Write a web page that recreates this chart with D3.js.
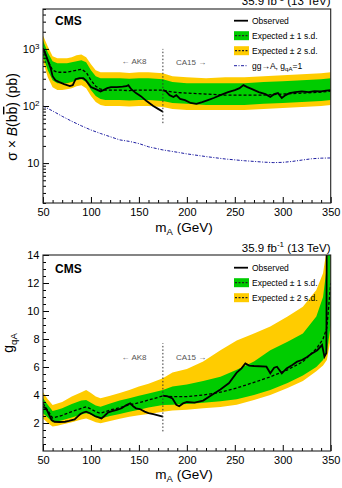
<!DOCTYPE html>
<html>
<head>
<meta charset="utf-8">
<script src="https://cdn.jsdelivr.net/npm/d3@7"></script>
<style>
  body { margin: 0; background: #fff; }
  svg { display: block; font-family: "Liberation Sans", Arial, Helvetica, sans-serif; }
</style>
</head>
<body>
<div id="chart"></div>
<script>
////////////////////////////////////////////////////
// data               //
////////////////////////////////////////////////////

// upper panel: sigma x B(bb) in pb
const massBand = [50,55,60,65,70,75,80,85,90,95,100,105,110,115,120,130,140,150,160,175,185,200,220,240,260,280,300,320,340,350];
const xsExp  = [1020,631,423,390,390,390,406,423,440,390,283,222,197,190,190,190,186,190,190,190,175,168,162,155,155,155,162,168,175,182];
const xs1Lo  = [741,423,283,251,251,251,262,283,295,262,190,149,132,127,127,127,125,127,127,122,113,109,104,104,104,109,113,117,122,127];
const xs1Hi  = [1406,869,607,560,560,560,582,607,631,582,423,333,307,307,307,307,300,307,307,295,262,251,251,251,251,262,272,283,295,307];
const xs2Lo  = [607,319,214,190,190,197,205,222,232,205,149,117,104,100,100,100,98,100,100,96,89,85,85,85,85,89,92,96,100,104];
const xs2Hi  = [1717,1105,741,684,684,684,712,771,802,712,537,423,390,390,390,390,380,390,390,375,333,319,307,319,319,333,346,360,375,390];

const massObsAK8 = [50,52,55,58,60,63,67,72,78,81,84,88,92,95,100,105,110,113,117,121,127,133,137,139,142,147,152,158,165,170,175];
const xsObsAK8   = [1020,870,630,460,333,283,262,241,224,232,295,307,307,278,214,197,180,190,205,214,214,218,222,232,197,168,149,122,100,89,79];
const massObsCA15 = [175,178,182,186,189,193,198,204,210,216,222,228,235,243,250,255,259,263,268,275,282,287,291,295,299,303,307,313,320,327,333,340,345,350];
const xsObsCA15   = [190,182,155,144,155,133,127,113,109,117,127,138,155,175,190,205,232,214,197,175,161,144,161,168,138,155,168,175,180,175,182,180,186,190];

const massTheory = [50,60,70,80,90,100,110,120,130,140,150,160,175,190,200,220,240,260,280,290,300,310,320,330,340,350];
const xsTheory   = [100,82,66,54,45,38,33,29,25.5,24,22,19.3,17,15.5,14.5,13,11.8,11,10.4,10.2,10.3,10.7,11.3,11.9,12.2,12.3];

// lower panel: coupling g_qA
const massBandG = [50,55,60,65,70,80,90,95,100,105,110,120,130,140,150,160,175,185,200,217,235,252,270,287,305,321,335,342,346,350];
const gExp = [3.4,2.9,2.35,2.45,2.55,2.81,3.05,3.16,3.0,2.81,2.69,2.93,3.1,3.29,3.45,3.64,3.93,3.88,3.88,4.0,4.2,4.5,4.9,5.3,5.8,6.38,7.3,8.0,8.8,12];
const g1Lo = [2.69,2.4,2.05,2.1,2.2,2.4,2.6,2.69,2.6,2.4,2.33,2.5,2.65,2.81,2.95,3.1,3.29,3.3,3.35,3.45,3.55,3.7,4.0,4.36,4.85,5.4,6.0,6.5,7.0,9.0];
const g1Hi = [3.76,3.3,2.85,2.95,3.05,3.35,3.6,3.64,3.45,3.25,3.16,3.4,3.6,3.76,3.95,4.1,4.36,4.6,4.75,5.0,5.3,5.8,6.4,7.2,7.8,8.4,9.6,11.0,13.2,20];
const g2Lo = [2.33,2.0,1.75,1.8,1.9,2.05,2.25,2.33,2.2,2.05,1.98,2.15,2.3,2.45,2.55,2.65,2.81,2.9,2.95,3.05,3.15,3.3,3.65,4.0,4.5,5.0,5.7,6.1,6.5,8.0];
const g2Hi = [4.2,3.7,3.29,3.4,3.5,3.9,4.2,4.36,4.15,3.9,3.76,3.95,4.15,4.36,4.6,4.8,5.2,5.6,5.85,6.4,7.2,7.9,8.4,8.9,9.6,10.3,11.5,12.7,14.5,25];

const massObsGAK8 = [50,52,54,57,59,62,67,73,77,80,83,86,89,92,95,99,104,108,111,114,118,122,127,132,137,141,144,147,151,156,160,165,170,175];
const gObsAK8     = [3.16,3.1,2.93,2.5,2.21,2.09,2.07,2.09,2.15,2.21,2.25,2.45,2.64,2.75,2.81,2.7,2.5,2.4,2.33,2.5,2.76,2.85,2.93,3.05,3.29,3.4,3.2,3.05,3.0,2.81,2.7,2.64,2.55,2.45];
const massObsGCA15 = [175,180,185,189,192,196,200,208,217,226,235,244,252,257,261,265,270,283,287,291,294,299,304,310,315,320,325,330,336,341,343.5,345.5,346.5];
const gObsCA15     = [3.95,3.9,3.75,3.3,3.2,3.4,3.5,3.45,3.6,4.0,4.4,4.85,5.6,5.9,6.26,6.1,6.07,6.02,5.55,5.95,6.02,5.55,5.9,6.15,6.38,6.5,6.7,6.95,7.2,7.57,6.74,7.0,30];

// AK8 / CA15 boundary and axis ticks
const boundaryMass = 175;
const boundaryTop = [50, 1000];
const boundaryBot = [1.4, 7.7];
const xMajor = [50,100,150,200,250,300,350];
const xMinor = d3.range(60, 350, 10).filter(v => v % 50 !== 0);
const yTopMajor = [10, 100, 1000];
const yTopMinor = [2,3,4,5,6,7,8,9,20,30,40,50,60,70,80,90,200,300,400,500,600,700,800,900,2000,3000,4000,5000];
const yBotMajor = [2,4,6,8,10,12,14];
const yBotMinor = d3.range(0.5, 14, 0.5).filter(v => v % 2 !== 0);

const GREEN = "#00cc00", YELLOW = "#ffcc00", THEORY = "#1c1ca0";

////////////////////////////////////////////////////
// layout                                         //
////////////////////////////////////////////////////
const W = 342, H = 488;
const svg = d3.select("#chart").append("svg").attr("width", W).attr("height", H);

const x = d3.scaleLinear().domain([50, 350]).range([43, 330.7]);
const yTop = d3.scaleLog().domain([2, 5000]).range([203, 9]);
const yBot = d3.scaleLinear().domain([0, 14]).range([451, 255]);

const zip = (ms, vs) => ms.map((m, i) => ({m: m, v: vs[i]}));

function drawPanel(y, id, bands, lines) {
  const [x0, x1] = x.range();
  const [yb, yt] = y.range();
  svg.append("clipPath").attr("id", id)
    .append("rect").attr("x", x0).attr("y", yt).attr("width", x1 - x0).attr("height", yb - yt);
  const g = svg.append("g").attr("clip-path", "url(#" + id + ")");

  const area = (lo, hi) => d3.area().x(d => x(d.m)).y0(d => y(d[lo])).y1(d => y(d[hi]));
  g.append("path").datum(bands).attr("d", area("l2", "h2")).attr("fill", YELLOW);
  g.append("path").datum(bands).attr("d", area("l1", "h1")).attr("fill", GREEN);

  const line = d3.line().x(d => x(d.m)).y(d => y(d.v));
  g.append("path").datum(bands.map(d => ({m: d.m, v: d.e})))
    .attr("d", line).attr("fill", "none").attr("stroke", "#000")
    .attr("stroke-width", 1.3).attr("stroke-dasharray", "3,2");

  lines.forEach(function (l) {
    g.append("path").datum(l.data).attr("d", line).attr("fill", "none")
      .attr("stroke", l.color).attr("stroke-width", l.width)
      .attr("stroke-dasharray", l.dash || null);
  });
  return g;
}

function drawAxes(y, yMajor, yMinor, labelFmt) {
  const yPos = y.range()[0];
  const xPos = x.range()[0];
  svg.append("g").attr("transform", "translate(0," + yPos + ")")
    .call(d3.axisBottom(x).tickValues(xMinor).tickSize(-3).tickFormat(""));
  const xa = svg.append("g").attr("transform", "translate(0," + yPos + ")")
    .call(d3.axisBottom(x).tickValues(xMajor).tickSize(-6).tickPadding(5).tickFormat(d3.format("d")));
  svg.append("g").attr("transform", "translate(" + xPos + ",0)")
    .call(d3.axisLeft(y).tickValues(yMinor).tickSize(-3).tickFormat(""));
  const ya = svg.append("g").attr("transform", "translate(" + xPos + ",0)")
    .call(d3.axisLeft(y).tickValues(yMajor).tickSize(-6).tickPadding(3.5).tickFormat(labelFmt));
  svg.selectAll(".domain").remove();
  [xa, ya].forEach(a => a.selectAll("text").attr("font-size", 11).attr("fill", "#000")
    .attr("font-family", null));
  return ya;
}

function frame(y) {
  const [x0, x1] = x.range();
  const [yb, yt] = y.range();
  svg.append("rect").attr("x", x0).attr("y", yt).attr("width", x1 - x0).attr("height", yb - yt)
    .attr("fill", "none").attr("stroke", "#222").attr("stroke-width", 1.1);
}

function boundary(y, span, labelY) {
  svg.append("line").attr("x1", x(boundaryMass)).attr("x2", x(boundaryMass))
    .attr("y1", y(span[0])).attr("y2", y(span[1]))
    .attr("stroke", "#333").attr("stroke-width", 1).attr("stroke-dasharray", "1.5,2");
  svg.append("text").attr("x", 146.5).attr("y", labelY).attr("text-anchor", "end")
    .attr("font-size", 8).attr("fill", "#555").text("\u2190 AK8");
  svg.append("text").attr("x", 176).attr("y", labelY + 0.5)
    .attr("font-size", 8).attr("fill", "#555").text("CA15 \u2192");
}

function lumi(baseY) {
  const t = svg.append("text").attr("x", 330.5).attr("y", baseY).attr("text-anchor", "end")
    .attr("font-size", 11.5);
  t.append("tspan").text("35.9 fb");
  t.append("tspan").attr("font-size", 8).attr("dy", -4.5).text("-1");
  t.append("tspan").attr("dy", 4.5).text(" (13 TeV)");
}

function cms(baseY) {
  svg.append("text").attr("x", 55).attr("y", baseY).attr("font-size", 12)
    .attr("font-weight", "bold").text("CMS");
}

function xTitle(baseY) {
  const t = svg.append("text").attr("x", 184).attr("y", baseY).attr("text-anchor", "middle")
    .attr("font-size", 13.5);
  t.append("tspan").text("m");
  t.append("tspan").attr("font-size", 9.5).attr("dy", 3).text("A");
  t.append("tspan").attr("dy", -3).text(" (GeV)");
}

function legend(rows, y0) {
  rows.forEach(function (r, i) {
    const cy = y0 + i * 15;
    if (r.type === "line") {
      svg.append("line").attr("x1", 234).attr("x2", 248).attr("y1", cy).attr("y2", cy)
        .attr("stroke", "#000").attr("stroke-width", 1.8);
    } else if (r.type === "band") {
      svg.append("rect").attr("x", 234).attr("y", cy - 4.5).attr("width", 15).attr("height", 9)
        .attr("fill", r.color);
      svg.append("line").attr("x1", 235).attr("x2", 248).attr("y1", cy).attr("y2", cy)
        .attr("stroke", "#222").attr("stroke-width", 1.2).attr("stroke-dasharray", "2,1.5");
    } else {
      svg.append("line").attr("x1", 234).attr("x2", 248).attr("y1", cy).attr("y2", cy)
        .attr("stroke", THEORY).attr("stroke-width", 1).attr("stroke-dasharray", "3,1.5,1,1.5");
    }
    const t = svg.append("text").attr("x", 252).attr("y", cy + 3).attr("font-size", 8.5);
    r.parts.forEach(function (p) {
      const s = t.append("tspan").text(p.t);
      if (p.sub) s.attr("font-size", 6).attr("dy", 2.5);
      if (p.back) s.attr("dy", -2.5);
    });
  });
}

////////////////////////////////////////////////////
// upper panel                                    //
////////////////////////////////////////////////////
const bandTop = massBand.map((m, i) => ({m: m, e: xsExp[i], l1: xs1Lo[i], h1: xs1Hi[i], l2: xs2Lo[i], h2: xs2Hi[i]}));
drawPanel(yTop, "clipTop", bandTop, [
  {data: zip(massTheory, xsTheory), color: THEORY, width: 1, dash: "3,1.5,1,1.5"},
  {data: zip(massObsAK8, xsObsAK8), color: "#000", width: 1.8},
  {data: zip(massObsCA15, xsObsCA15), color: "#000", width: 1.8}
]);
boundary(yTop, boundaryTop, 64);
const yaTop = drawAxes(yTop, yTopMajor, yTopMinor, () => "10");
yaTop.selectAll(".tick text").filter(d => d > 10)
  .append("tspan").attr("font-size", 8).attr("dy", "-0.5em")
  .text(d => String(Math.round(Math.log10(d))));
frame(yTop);
lumi(5);
cms(25);
xTitle(232);

const yt1 = svg.append("text").attr("transform", "translate(17,117) rotate(-90)")
  .attr("text-anchor", "middle").attr("font-size", 14);
yt1.append("tspan").text("\u03c3 \u00d7 ");
yt1.append("tspan").attr("font-style", "italic").text("B");
yt1.append("tspan").text("(b");
yt1.append("tspan").style("text-decoration", "overline").text("b");
yt1.append("tspan").text(") (pb)");

legend([
  {type: "line", parts: [{t: "Observed"}]},
  {type: "band", color: GREEN, parts: [{t: "Expected \u00b1 1 s.d."}]},
  {type: "band", color: YELLOW, parts: [{t: "Expected \u00b1 2 s.d."}]},
  {type: "theory", parts: [{t: "gg\u2192A, g"}, {t: "qA", sub: true}, {t: "=1", back: true}]}
], 20.7);

////////////////////////////////////////////////////
// lower panel                                    //
////////////////////////////////////////////////////
const bandBot = massBandG.map((m, i) => ({m: m, e: gExp[i], l1: g1Lo[i], h1: g1Hi[i], l2: g2Lo[i], h2: g2Hi[i]}));
drawPanel(yBot, "clipBot", bandBot, [
  {data: zip(massObsGAK8, gObsAK8), color: "#000", width: 1.8},
  {data: zip(massObsGCA15, gObsCA15), color: "#000", width: 1.8}
]);
boundary(yBot, boundaryBot, 359.5);
drawAxes(yBot, yBotMajor, yBotMinor, d3.format("d"));
frame(yBot);
lumi(251.5);
cms(272.5);
xTitle(479);

const yt2 = svg.append("text").attr("transform", "translate(13,343) rotate(-90)")
  .attr("text-anchor", "middle").attr("font-size", 14);
yt2.append("tspan").text("g");
yt2.append("tspan").attr("font-size", 9.5).attr("dy", 3.5).text("qA");

legend([
  {type: "line", parts: [{t: "Observed"}]},
  {type: "band", color: GREEN, parts: [{t: "Expected \u00b1 1 s.d."}]},
  {type: "band", color: YELLOW, parts: [{t: "Expected \u00b1 2 s.d."}]}
], 267.7);
</script>
</body>
</html>
